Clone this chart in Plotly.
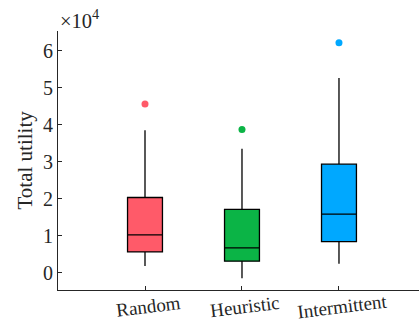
import plotly.graph_objects as go

# Box statistics per method (Total utility)
categories = ["Random", "Heuristic", "Intermittent"]
lower_whisker = [1900, -1400, 2500]
q1_values = [5700, 3200, 8500]
median_values = [10300, 6800, 15900]
q3_values = [20400, 17200, 29400]
upper_whisker = [38600, 33600, 52700]
outlier_values = [45700, 38800, 62200]
colors = ["#FF5A69", "#0BB446", "#00A8FF"]

ytick_vals = [0, 10000, 20000, 30000, 40000, 50000, 60000]
ytick_text = ["0", "1", "2", "3", "4", "5", "6"]

font_family = "Liberation Serif"
text_color = "#262626"

fig = go.Figure()
for i, cat in enumerate(categories):
    fig.add_trace(go.Box(
        x=[cat],
        q1=[q1_values[i]],
        median=[median_values[i]],
        q3=[q3_values[i]],
        lowerfence=[lower_whisker[i]],
        upperfence=[upper_whisker[i]],
        fillcolor=colors[i],
        line=dict(color="black", width=1.3),
        width=0.36,
        whiskerwidth=0,
        boxpoints=False,
        showlegend=False,
        hoverinfo="skip",
    ))
    fig.add_trace(go.Scatter(
        x=[cat], y=[outlier_values[i]],
        mode="markers",
        marker=dict(color=colors[i], size=7),
        showlegend=False,
    ))

# Category labels, slightly tilted and centred under each tick
annotations = [
    dict(
        text=cat, xref="x", yref="paper", x=cat, y=0,
        xanchor="center", yanchor="middle", xshift=3, yshift=-16,
        textangle=-7, showarrow=False,
        font=dict(size=19, family=font_family, color=text_color),
    )
    for cat in categories
]
annotations.append(dict(
    text="Total utility", xref="paper", yref="paper",
    x=(24 - 58) / 361, y=0.5, xanchor="center", yanchor="middle",
    textangle=-90, showarrow=False,
    font=dict(size=21, family=font_family, color=text_color),
))
annotations.append(dict(
    text="×10<sup>4</sup>", xref="paper", yref="paper",
    x=0.0, y=1.0, xanchor="left", yanchor="bottom", yshift=-3,
    showarrow=False, font=dict(size=20.5, family=font_family, color=text_color),
))

fig.update_layout(
    width=419, height=323,
    margin=dict(l=58, r=0, t=31, b=33),
    plot_bgcolor="white", paper_bgcolor="white",
    font=dict(family=font_family, color=text_color, size=18),
    xaxis=dict(
        type="category",
        range=[-0.897, 2.825],
        automargin=False,
        showline=True, linecolor=text_color, linewidth=1,
        ticks="inside", ticklen=4, tickcolor=text_color,
        showticklabels=False,
        showgrid=False, zeroline=False,
    ),
    yaxis=dict(
        range=[-4600, 65400],
        automargin=False,
        tickvals=ytick_vals, ticktext=ytick_text,
        showline=True, linecolor=text_color, linewidth=1,
        ticks="inside", ticklen=4, tickcolor=text_color,
        tickfont=dict(size=20, family=font_family, color=text_color),
        showgrid=False, zeroline=False,
    ),
    annotations=annotations,
)

fig.write_html("out.html")
